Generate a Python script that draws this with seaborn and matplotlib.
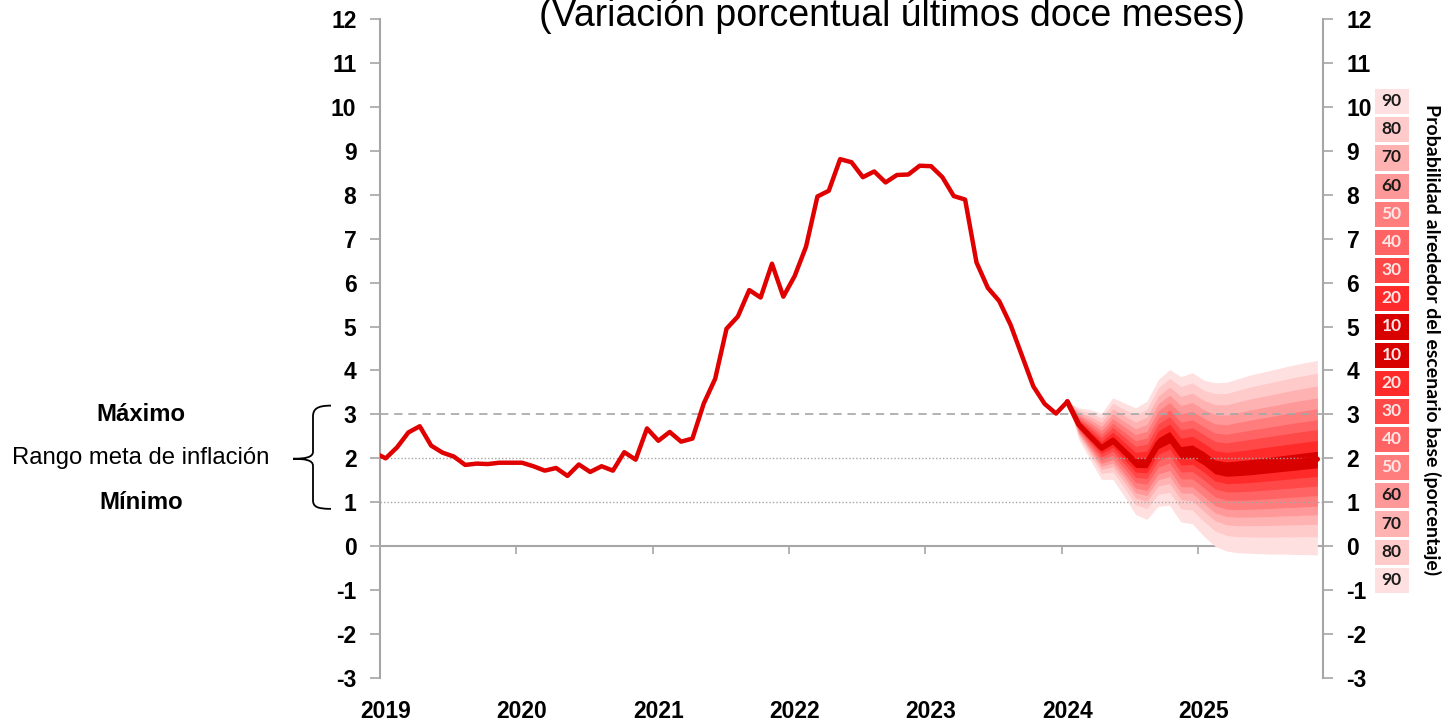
import numpy as np
import matplotlib.pyplot as plt
import seaborn as sns
from matplotlib.colors import ListedColormap
from matplotlib.path import Path
from matplotlib.patches import PathPatch
from matplotlib.transforms import blended_transform_factory

# ============================================
# DATA
# ============================================

# inflacion observada, % anual (ene-2019 .. feb-2024)
infl_2019 = [2.13, 2.00, 2.25, 2.59, 2.73, 2.29, 2.13, 2.04, 1.85, 1.88, 1.87, 1.90]
infl_2020 = [1.90, 1.90, 1.82, 1.72, 1.78, 1.60, 1.86, 1.69, 1.82, 1.72, 2.14, 1.97]
infl_2021 = [2.68, 2.40, 2.60, 2.38, 2.45, 3.25, 3.81, 4.95, 5.23, 5.83, 5.66, 6.43]
infl_2022 = [5.68, 6.15, 6.82, 7.96, 8.09, 8.81, 8.74, 8.40, 8.53, 8.28, 8.45, 8.46]
infl_2023 = [8.66, 8.65, 8.40, 7.97, 7.89, 6.46, 5.88, 5.58, 5.04, 4.34, 3.64, 3.24]
infl_2024 = [3.02, 3.29]

# proyeccion (feb-2024 .. dic-2025)
proj_center = [3.29, 2.77, 2.50, 2.24, 2.41, 2.16, 1.90, 1.90, 2.35, 2.49, 2.13, 2.16,
               2.01, 1.81, 1.76, 1.78, 1.80, 1.83, 1.86, 1.89, 1.92, 1.95, 1.98]
proj_upper90 = [3.29, 3.15, 3.11, 3.02, 3.38, 3.26, 3.15, 3.30, 3.79, 4.02, 3.86, 3.95,
                3.78, 3.72, 3.73, 3.81, 3.89, 3.95, 4.01, 4.07, 4.13, 4.18, 4.23]
proj_lower90 = [3.29, 2.43, 1.97, 1.52, 1.52, 1.14, 0.72, 0.61, 0.91, 0.93, 0.55, 0.51,
                0.23, 0.00, -0.11, -0.15, -0.16, -0.17, -0.18, -0.18, -0.19, -0.19, -0.20]

# share of the distance center -> 90% bound for each band (10..90)
levels = [10, 20, 30, 40, 50, 60, 70, 80, 90]
upper_share = [0.08, 0.19, 0.30, 0.40, 0.51, 0.62, 0.74, 0.87, 1.00]
lower_share = [0.09, 0.18, 0.28, 0.38, 0.49, 0.58, 0.68, 0.81, 1.00]
band_colors = ["#D90000", "#FF2B2B", "#FF4848", "#FF6363", "#FF7D7D",
               "#FF9898", "#FFB2B2", "#FFCACA", "#FFE0E0"]

years = ["2019", "2020", "2021", "2022", "2023", "2024", "2025"]

# ============================================
# PREP
# ============================================

hist = infl_2019 + infl_2020 + infl_2021 + infl_2022 + infl_2023 + infl_2024
hist_x = np.arange(len(hist))
proj_x = np.arange(len(hist) - 1, len(hist) - 1 + len(proj_center))
c = np.array(proj_center)
up = np.array(proj_upper90)
lo = np.array(proj_lower90)

GRAY = "#A6A6A6"
RED = "#E00000"
NARROW = ["Liberation Sans Narrow", "Liberation Sans", "DejaVu Sans"]
ARIAL = ["Liberation Sans", "DejaVu Sans"]

sns.set_style("white")
plt.rcParams["font.family"] = NARROW
plt.rcParams["text.color"] = "black"
plt.rcParams["xtick.labelcolor"] = "black"
plt.rcParams["ytick.labelcolor"] = "black"

fig = plt.figure(figsize=(14.43, 7.21), dpi=100)
ax = fig.add_axes([380 / 1443, 1 - 678 / 721, 943 / 1443, 659 / 721])

# ============================================
# FAN CHART
# ============================================

for k in range(len(levels) - 1, -1, -1):
    ax.fill_between(proj_x, c - lower_share[k] * (c - lo), c + upper_share[k] * (up - c),
                    color=band_colors[k], lw=0, zorder=1)

# reference lines
ax.axhline(3, color=GRAY, lw=1.2, ls=(0, (5, 3.5)), zorder=2)
ax.axhline(2, color=GRAY, lw=1.0, ls=(0, (1, 1.5)), zorder=2)
ax.axhline(1, color=GRAY, lw=1.0, ls=(0, (1, 1.5)), zorder=2)

sns.lineplot(x=hist_x, y=hist, ax=ax, color=RED, lw=3.2, zorder=4)
sns.lineplot(x=proj_x, y=proj_center, ax=ax, color=band_colors[0], lw=3.8, zorder=3)

# ============================================
# AXES
# ============================================

ax.set_xlim(0.5, 83.5)
ax.set_ylim(-3, 12)
ax.set_yticks(range(-3, 13))
ax.set_yticklabels([str(v) for v in range(-3, 13)], fontsize=16.5, fontweight="bold")
ax.tick_params(axis="y", which="both", left=True, right=True, labelleft=True, labelright=True,
               direction="out", length=7, width=1.2, color=GRAY, pad=10)

ax.set_xticks([12 * i + 1 for i in range(len(years))])
ax.set_xticklabels(years, fontsize=16.5, fontweight="bold")
ax.tick_params(axis="x", length=0, pad=16)

for s in ["top", "bottom"]:
    ax.spines[s].set_visible(False)
for s in ["left", "right"]:
    ax.spines[s].set_color(GRAY)
    ax.spines[s].set_linewidth(1.5)

# zero line with year ticks
sec = ax.secondary_xaxis(3 / 15)
sec.set_xticks([12 * i + 0.5 for i in range(1, len(years))])
sec.tick_params(direction="out", length=6, width=1.2, color=GRAY, labelbottom=False)
sec.spines["bottom"].set_color(GRAY)
sec.spines["bottom"].set_linewidth(1.5)

# ============================================
# TEXTS
# ============================================

fig.text(892 / 1443, 1 - 26 / 721, "(Variación porcentual últimos doce meses)",
         ha="center", va="baseline", fontsize=27, family=ARIAL)

tr = blended_transform_factory(fig.transFigure, ax.transData)
ax.text(141 / 1443, 3, "Máximo", transform=tr, ha="center", va="center",
        fontsize=17.2, fontweight="bold", family=ARIAL)
ax.text(141 / 1443, 2, "Rango meta de inflación", transform=tr, ha="center", va="center",
        fontsize=17.2, family=ARIAL)
ax.text(141 / 1443, 1, "Mínimo", transform=tr, ha="center", va="center",
        fontsize=17.2, fontweight="bold", family=ARIAL)

# brace
xh, xs, xt = 331 / 1443, 313 / 1443, 293 / 1443
verts = [(xh, 3.2), (317 / 1443, 3.2), (xs, 3.12), (xs, 2.95),
         (xs, 2.15),
         (xs, 2.02), (305 / 1443, 1.99), (xt, 1.99),
         (305 / 1443, 1.99), (xs, 1.96), (xs, 1.83),
         (xs, 1.05),
         (xs, 0.9), (317 / 1443, 0.85), (xh, 0.85)]
codes = [Path.MOVETO, Path.CURVE4, Path.CURVE4, Path.CURVE4,
         Path.LINETO,
         Path.CURVE4, Path.CURVE4, Path.CURVE4,
         Path.CURVE4, Path.CURVE4, Path.CURVE4,
         Path.LINETO,
         Path.CURVE4, Path.CURVE4, Path.CURVE4]
ax.add_patch(PathPatch(Path(verts, codes), transform=tr, fill=False, lw=1.3,
                       color="black", clip_on=False))

# ============================================
# PROBABILITY LEGEND
# ============================================

leg_levels = levels[::-1] + levels
leg_vals = np.array([levels.index(v) for v in leg_levels]).reshape(-1, 1)
leg_text = np.array([str(v) for v in leg_levels]).reshape(-1, 1)

ax_leg = fig.add_axes([1373 / 1443, 1 - 594 / 721, 37 / 1443, 507 / 721])
sns.heatmap(leg_vals, ax=ax_leg, cmap=ListedColormap(band_colors), vmin=-0.5, vmax=8.5,
            annot=leg_text, fmt="", cbar=False, linewidths=2, linecolor="white",
            xticklabels=False, yticklabels=False,
            annot_kws=dict(fontsize=12.5, fontweight="bold", family=["Lato", "DejaVu Sans"]))
for t, v in zip(ax_leg.texts, leg_levels):
    t.set_color("#1A1A1A" if v >= 60 else "#FFE6E6")

fig.text(1432 / 1443, 1 - 340 / 721, "Probabilidad alrededor del escenario base (porcentaje)",
         rotation=270, ha="center", va="center", fontsize=14, fontweight="bold",
         family=["Lato", "DejaVu Sans"])

fig.savefig("out.png", dpi=100)
